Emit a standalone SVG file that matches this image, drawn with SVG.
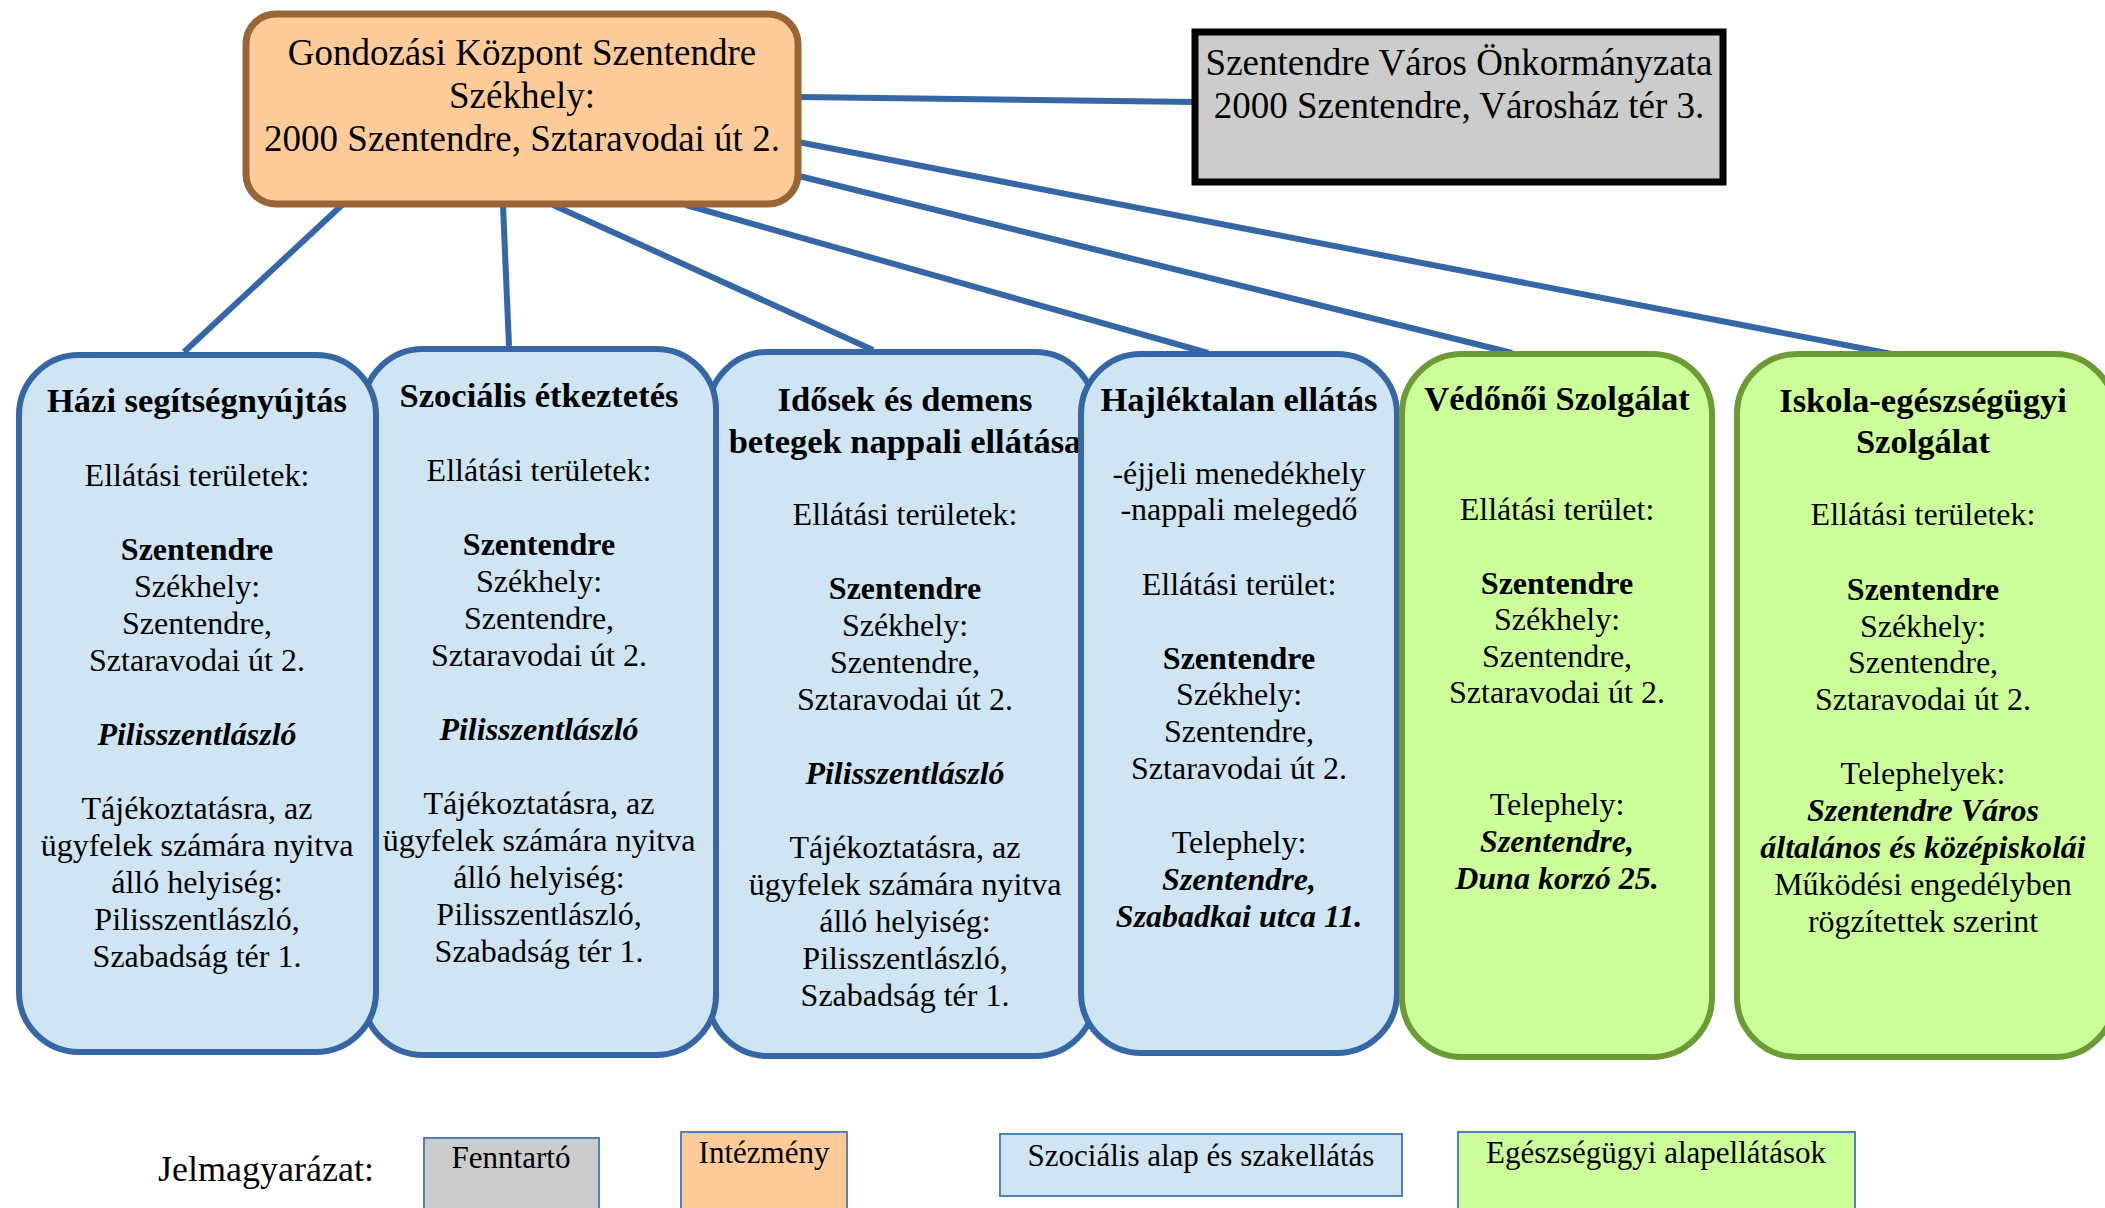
<svg xmlns="http://www.w3.org/2000/svg" width="2105" height="1208" viewBox="0 0 2105 1208">
<style>
text{font-family:"Liberation Serif","Times New Roman",serif;fill:#000;text-anchor:middle}
.big{font-size:37px}
.t{font-size:34.5px;font-weight:bold}
.b{font-size:32px}
.bb{font-weight:bold}
.bi{font-weight:bold;font-style:italic}
.soc{fill:#CFE5F3;stroke:#3566A5;stroke-width:6}
.hea{fill:#CCFF99;stroke:#6C9A35;stroke-width:6}
.lg{stroke:#4F81BD;stroke-width:2}
.lt{font-size:31px}
#connectors line{stroke:#3566A5;stroke-width:6;stroke-linecap:butt}
</style>
<rect width="2105" height="1208" fill="#fff"/>
<g id="connectors">
<line x1="799" y1="97" x2="1195" y2="102"/>
<line x1="342" y1="205" x2="184" y2="352"/>
<line x1="503" y1="205" x2="509" y2="346"/>
<line x1="553" y1="205" x2="873" y2="350"/>
<line x1="686" y1="205" x2="1208" y2="353"/>
<line x1="799" y1="176" x2="1512" y2="353"/>
<line x1="793" y1="141" x2="1902" y2="356"/>
</g>
<g id="root">
<rect x="246" y="14" width="552" height="190" rx="30" fill="#FFCC99" stroke="#9A6535" stroke-width="7"/>
<text class="big" x="522" y="65">Gondozási Központ Szentendre</text>
<text class="big" x="522" y="108">Székhely:</text>
<text class="big" x="522" y="151">2000 Szentendre, Sztaravodai út 2.</text>
</g>
<g id="fenntarto">
<rect x="1195" y="32" width="528" height="150" fill="#CCCCCC" stroke="#000" stroke-width="7"/>
<text class="big" x="1459" y="75">Szentendre Város Önkormányzata</text>
<text class="big" x="1459" y="118">2000 Szentendre, Városház tér 3.</text>
</g>
<g id="idosek">
<rect class="soc" x="708" y="352" width="387" height="704" rx="60"/>
<text class="t" x="905" y="411">Idősek és demens</text>
<text class="t" x="905" y="453">betegek nappali ellátása</text>
<g class="b">
<text x="905" y="525">Ellátási területek:</text>
<text x="905" y="599" class="bb">Szentendre</text>
<text x="905" y="636">Székhely:</text>
<text x="905" y="673">Szentendre,</text>
<text x="905" y="710">Sztaravodai út 2.</text>
<text x="905" y="784" class="bi">Pilisszentlászló</text>
<text x="905" y="858">Tájékoztatásra, az</text>
<text x="905" y="895">ügyfelek számára nyitva</text>
<text x="905" y="932">álló helyiség:</text>
<text x="905" y="969">Pilisszentlászló,</text>
<text x="905" y="1006">Szabadság tér 1.</text>
</g>
</g>
<g id="etkeztetes">
<rect class="soc" x="363" y="349" width="353" height="706" rx="60"/>
<text class="t" x="539" y="407">Szociális étkeztetés</text>
<g class="b">
<text x="539" y="481">Ellátási területek:</text>
<text x="539" y="555" class="bb">Szentendre</text>
<text x="539" y="592">Székhely:</text>
<text x="539" y="629">Szentendre,</text>
<text x="539" y="666">Sztaravodai út 2.</text>
<text x="539" y="740" class="bi">Pilisszentlászló</text>
<text x="539" y="814">Tájékoztatásra, az</text>
<text x="539" y="851">ügyfelek számára nyitva</text>
<text x="539" y="888">álló helyiség:</text>
<text x="539" y="925">Pilisszentlászló,</text>
<text x="539" y="962">Szabadság tér 1.</text>
</g>
</g>
<g id="hazi">
<rect class="soc" x="19" y="355" width="357" height="697" rx="60"/>
<text class="t" x="197" y="412">Házi segítségnyújtás</text>
<g class="b">
<text x="197" y="486">Ellátási területek:</text>
<text x="197" y="560" class="bb">Szentendre</text>
<text x="197" y="597">Székhely:</text>
<text x="197" y="634">Szentendre,</text>
<text x="197" y="671">Sztaravodai út 2.</text>
<text x="197" y="745" class="bi">Pilisszentlászló</text>
<text x="197" y="819">Tájékoztatásra, az</text>
<text x="197" y="856">ügyfelek számára nyitva</text>
<text x="197" y="893">álló helyiség:</text>
<text x="197" y="930">Pilisszentlászló,</text>
<text x="197" y="967">Szabadság tér 1.</text>
</g>
</g>
<g id="hajlektalan">
<rect class="soc" x="1081" y="354" width="316" height="699" rx="60"/>
<text class="t" x="1239" y="411">Hajléktalan ellátás</text>
<g class="b">
<text x="1239" y="484">-éjjeli menedékhely</text>
<text x="1239" y="520">-nappali melegedő</text>
<text x="1239" y="595">Ellátási terület:</text>
<text x="1239" y="669" class="bb">Szentendre</text>
<text x="1239" y="705">Székhely:</text>
<text x="1239" y="742">Szentendre,</text>
<text x="1239" y="779">Sztaravodai út 2.</text>
<text x="1239" y="853">Telephely:</text>
<text x="1239" y="890" class="bi">Szentendre,</text>
<text x="1239" y="927" class="bi">Szabadkai utca 11.</text>
</g>
</g>
<g id="vedonoi">
<rect class="hea" x="1402" y="354" width="310" height="703" rx="60"/>
<text class="t" x="1557" y="410">Védőnői Szolgálat</text>
<g class="b">
<text x="1557" y="520">Ellátási terület:</text>
<text x="1557" y="594" class="bb">Szentendre</text>
<text x="1557" y="630">Székhely:</text>
<text x="1557" y="667">Szentendre,</text>
<text x="1557" y="703">Sztaravodai út 2.</text>
<text x="1557" y="815">Telephely:</text>
<text x="1557" y="852" class="bi">Szentendre,</text>
<text x="1557" y="889" class="bi">Duna korzó 25.</text>
</g>
</g>
<g id="iskola">
<rect class="hea" x="1737" y="354" width="378" height="703" rx="60"/>
<text class="t" x="1923" y="412">Iskola-egészségügyi</text>
<text class="t" x="1923" y="453">Szolgálat</text>
<g class="b">
<text x="1923" y="525">Ellátási területek:</text>
<text x="1923" y="600" class="bb">Szentendre</text>
<text x="1923" y="637">Székhely:</text>
<text x="1923" y="673">Szentendre,</text>
<text x="1923" y="710">Sztaravodai út 2.</text>
<text x="1923" y="784">Telephelyek:</text>
<text x="1923" y="821" class="bi">Szentendre Város</text>
<text x="1923" y="858" class="bi">általános és középiskolái</text>
<text x="1923" y="895">Működési engedélyben</text>
<text x="1923" y="932">rögzítettek szerint</text>
</g>
</g>
<g id="legend">
<text x="266" y="1181" style="font-size:36px">Jelmagyarázat:</text>
<rect class="lg" x="424" y="1138" width="175" height="80" fill="#CCCCCC"/>
<text class="lt" x="511" y="1168">Fenntartó</text>
<rect class="lg" x="681" y="1132" width="166" height="86" fill="#FFCC99"/>
<text class="lt" x="764" y="1163">Intézmény</text>
<rect class="lg" x="1000" y="1134" width="402" height="62" fill="#CFE5F3"/>
<text class="lt" x="1201" y="1166">Szociális alap és szakellátás</text>
<rect class="lg" x="1458" y="1132" width="397" height="86" fill="#CCFF99"/>
<text class="lt" x="1656" y="1163">Egészségügyi alapellátások</text>
</g>
</svg>
